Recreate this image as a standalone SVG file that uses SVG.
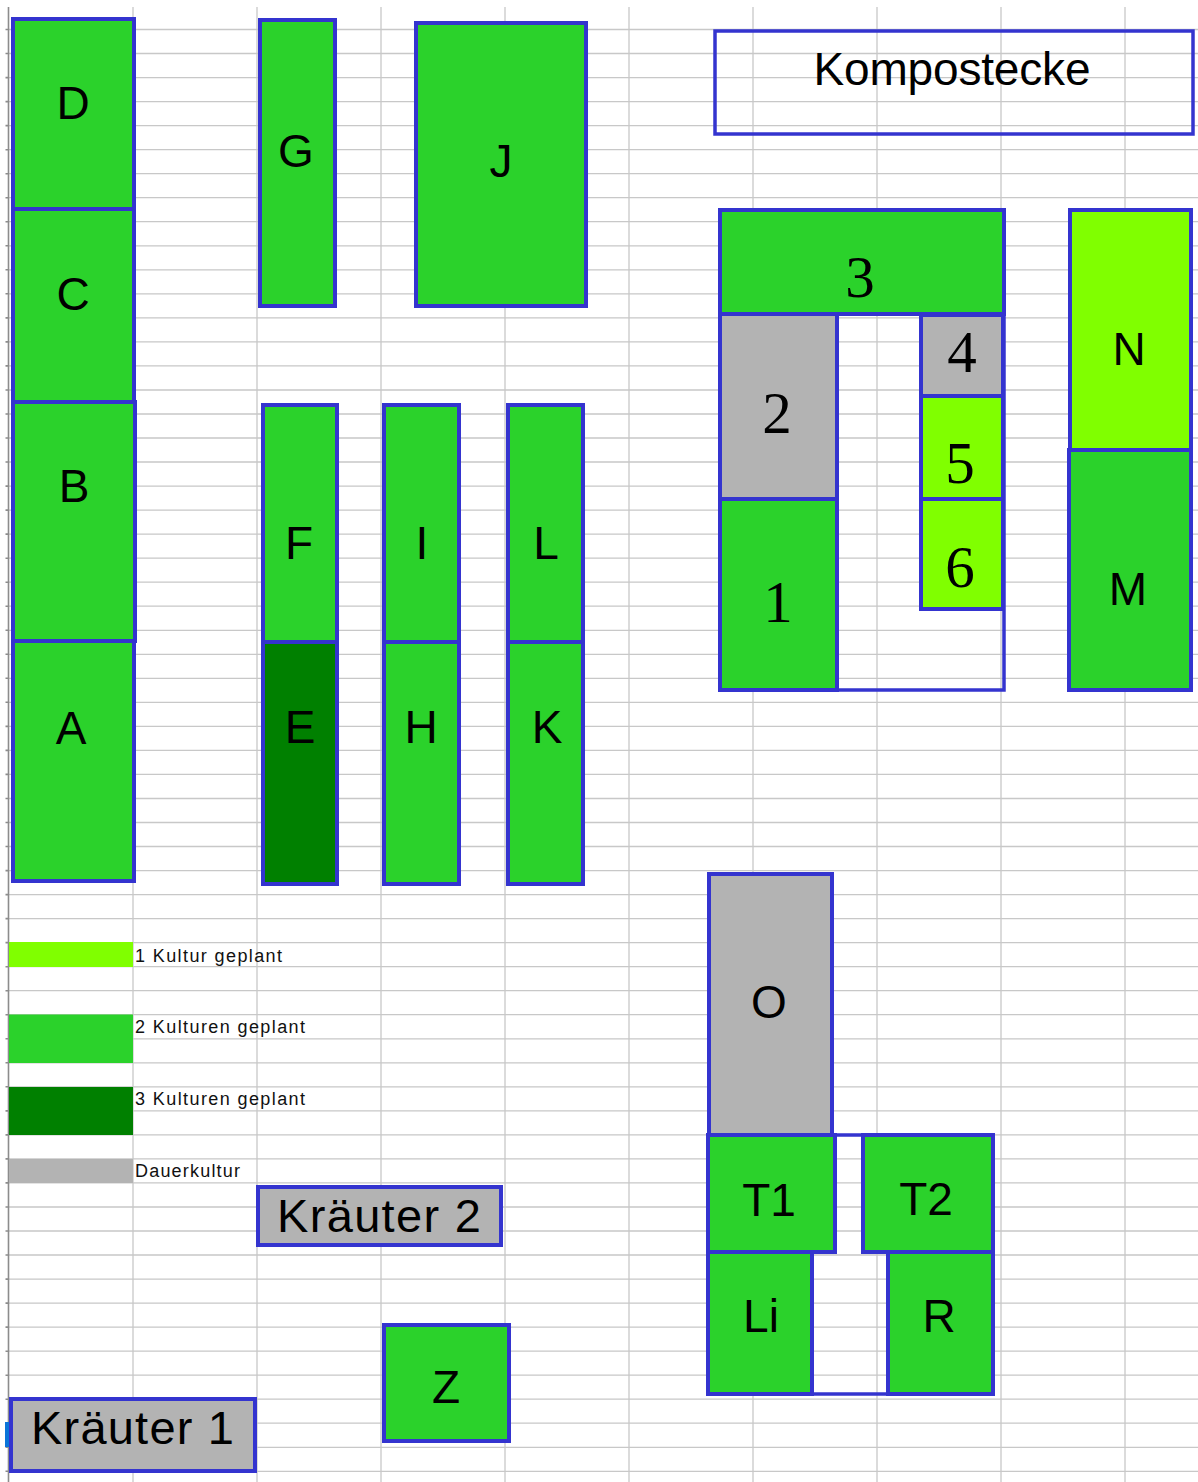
<svg xmlns="http://www.w3.org/2000/svg" width="1198" height="1482" viewBox="0 0 1198 1482">
<style>
.grid{stroke:#c8c8c8;stroke-width:1.3;fill:none}
.edge{stroke:#8c8c8c;stroke-width:1.6;fill:none}
.g{fill:#2bd22b;stroke:#3434cf;stroke-width:4}
.lg{fill:#80ff00;stroke:#3434cf;stroke-width:4}
.dg{fill:#008000;stroke:#3434cf;stroke-width:4}
.gr{fill:#b3b3b3;stroke:#3434cf;stroke-width:4}
.fr{fill:none;stroke:#3434cf;stroke-width:3.5}
.lbl{font-family:"Liberation Sans",Arial,sans-serif;font-size:46px;text-anchor:middle;fill:#000}
.num{font-family:"Liberation Serif","Times New Roman",serif;font-size:59px;text-anchor:middle;fill:#000}
.leg{font-family:"Liberation Sans",Arial,sans-serif;font-size:18px;fill:#111}
.big{font-family:"Liberation Sans",Arial,sans-serif;font-size:47px;fill:#000}
</style>
<rect width="1198" height="1482" fill="#fff"/>
<g id="grid">
<path class="grid" d="M133 7V1482M257 7V1482M381 7V1482M505 7V1482M629 7V1482M753 7V1482M877 7V1482M1001 7V1482M1125 7V1482"/>
<path class="grid" d="M9 29.5H1198M9 53.5H1198M9 77.6H1198M9 101.6H1198M9 125.6H1198M9 149.7H1198M9 173.7H1198M9 197.7H1198M9 221.7H1198M9 245.8H1198M9 269.8H1198M9 293.8H1198M9 317.9H1198M9 341.9H1198M9 365.9H1198M9 390H1198M9 414H1198M9 438H1198M9 462H1198M9 486.1H1198M9 510.1H1198M9 534.1H1198M9 558.2H1198M9 582.2H1198M9 606.2H1198M9 630.3H1198M9 654.3H1198M9 678.3H1198M9 702.3H1198M9 726.4H1198M9 750.4H1198M9 774.4H1198M9 798.5H1198M9 822.5H1198M9 846.5H1198M9 870.6H1198M9 894.6H1198M9 918.6H1198M9 942.6H1198M9 966.7H1198M9 990.7H1198M9 1014.7H1198M9 1038.8H1198M9 1062.8H1198M9 1086.8H1198M9 1110.9H1198M9 1134.9H1198M9 1158.9H1198M9 1182.9H1198M9 1207H1198M9 1231H1198M9 1255H1198M9 1279.1H1198M9 1303.1H1198M9 1327.1H1198M9 1351.2H1198M9 1375.2H1198M9 1399.2H1198M9 1423.2H1198M9 1447.3H1198M9 1471.3H1198"/>
<path class="edge" d="M8.5 7V1482"/>
<path class="edge" d="M5.5 29.5H9M5.5 53.5H9M5.5 77.6H9M5.5 101.6H9M5.5 125.6H9M5.5 149.7H9M5.5 173.7H9M5.5 197.7H9M5.5 221.7H9M5.5 245.8H9M5.5 269.8H9M5.5 293.8H9M5.5 317.9H9M5.5 341.9H9M5.5 365.9H9M5.5 390H9M5.5 414H9M5.5 438H9M5.5 462H9M5.5 486.1H9M5.5 510.1H9M5.5 534.1H9M5.5 558.2H9M5.5 582.2H9M5.5 606.2H9M5.5 630.3H9M5.5 654.3H9M5.5 678.3H9M5.5 702.3H9M5.5 726.4H9M5.5 750.4H9M5.5 774.4H9M5.5 798.5H9M5.5 822.5H9M5.5 846.5H9M5.5 870.6H9M5.5 894.6H9M5.5 918.6H9M5.5 942.6H9M5.5 966.7H9M5.5 990.7H9M5.5 1014.7H9M5.5 1038.8H9M5.5 1062.8H9M5.5 1086.8H9M5.5 1110.9H9M5.5 1134.9H9M5.5 1158.9H9M5.5 1182.9H9M5.5 1207H9M5.5 1231H9M5.5 1255H9M5.5 1279.1H9M5.5 1303.1H9M5.5 1327.1H9M5.5 1351.2H9M5.5 1375.2H9M5.5 1399.2H9M5.5 1423.2H9M5.5 1447.3H9M5.5 1471.3H9"/>
</g>
<g id="connectors"/>
<g id="bed-D"><rect class="g" x="13" y="19" width="121" height="190"/><text class="lbl" x="73" y="119">D</text></g>
<g id="bed-C"><rect class="g" x="13" y="209" width="121" height="193"/><text class="lbl" x="73" y="310">C</text></g>
<g id="bed-B"><rect class="g" x="13" y="402" width="122" height="239"/><text class="lbl" x="74" y="502">B</text></g>
<g id="bed-A"><rect class="g" x="13" y="641" width="121" height="240"/><text class="lbl" x="71" y="744">A</text></g>
<g id="bed-G"><rect class="g" x="260" y="20" width="75" height="286"/><text class="lbl" x="296" y="167">G</text></g>
<g id="bed-J"><rect class="g" x="416" y="23" width="170" height="283"/><text class="lbl" x="501" y="177">J</text></g>
<g id="bed-F"><rect class="g" x="263" y="405" width="74" height="237"/><text class="lbl" x="299" y="559">F</text></g>
<g id="bed-E"><rect class="dg" x="263" y="642" width="74" height="242"/><text class="lbl" x="300" y="743">E</text></g>
<g id="bed-I"><rect class="g" x="384" y="405" width="75" height="237"/><text class="lbl" x="422" y="559">I</text></g>
<g id="bed-H"><rect class="g" x="384" y="642" width="75" height="242"/><text class="lbl" x="421" y="743">H</text></g>
<g id="bed-L"><rect class="g" x="508" y="405" width="75" height="237"/><text class="lbl" x="546" y="559">L</text></g>
<g id="bed-K"><rect class="g" x="508" y="642" width="75" height="242"/><text class="lbl" x="547" y="743">K</text></g>
<g id="kompostecke"><rect class="fr" x="715" y="31" width="478" height="103" stroke-width="4"/><text class="lbl" x="952" y="85" font-size="45" textLength="277" lengthAdjust="spacing">Kompostecke</text></g>
<g id="frame-1-6"><rect class="fr" x="720" y="210" width="284" height="480"/></g>
<g id="bed-3"><rect class="g" x="720" y="210" width="284" height="104"/><text class="num" x="860" y="297">3</text></g>
<g id="bed-2"><rect class="gr" x="720" y="314" width="117" height="185"/><text class="num" x="777" y="433">2</text></g>
<g id="bed-1"><rect class="g" x="720" y="499" width="117" height="191"/><text class="num" x="778" y="622">1</text></g>
<g id="bed-4"><rect class="gr" x="921" y="315" width="82" height="81"/><text class="num" x="962" y="372">4</text></g>
<g id="bed-5"><rect class="lg" x="921" y="396" width="82" height="103"/><text class="num" x="960" y="483">5</text></g>
<g id="bed-6"><rect class="lg" x="921" y="499" width="82" height="110"/><text class="num" x="960" y="587">6</text></g>
<g id="bed-N"><rect class="lg" x="1070" y="210" width="121" height="240"/><text class="lbl" x="1129" y="365">N</text></g>
<g id="bed-M"><rect class="g" x="1069" y="450" width="122" height="240"/><text class="lbl" x="1128" y="605">M</text></g>
<g id="bed-O"><rect class="gr" x="709" y="874" width="123" height="261"/><text class="lbl" x="769" y="1018">O</text></g>
<g id="frame-T"><rect class="fr" x="708" y="1135" width="285" height="259"/></g>
<g id="bed-T1"><rect class="g" x="708" y="1135" width="127" height="117"/><text class="lbl" x="769" y="1216">T1</text></g>
<g id="bed-T2"><rect class="g" x="863" y="1135" width="130" height="117"/><text class="lbl" x="926" y="1215">T2</text></g>
<g id="bed-Li"><rect class="g" x="708" y="1252" width="104" height="142"/><text class="lbl" x="761" y="1332">Li</text></g>
<g id="bed-R"><rect class="g" x="888" y="1252" width="105" height="142"/><text class="lbl" x="939" y="1332">R</text></g>
<g id="kraeuter-2"><rect class="gr" x="258" y="1187" width="243" height="58"/><text class="big" x="277" y="1232" textLength="204" lengthAdjust="spacing">Kräuter 2</text></g>
<g id="bed-Z"><rect class="g" x="384" y="1325" width="125" height="116"/><text class="lbl" x="446" y="1403">Z</text></g>
<g id="kraeuter-1"><rect x="5" y="1422" width="4" height="25" fill="#0a74d8"/><rect class="gr" x="11" y="1399" width="244" height="72"/><text class="big" x="31" y="1444" textLength="203" lengthAdjust="spacing">Kräuter 1</text></g>
<g id="legend">
<rect x="9" y="942" width="124" height="25" fill="#80ff00"/>
<text class="leg" x="135" y="962" textLength="147" lengthAdjust="spacing">1 Kultur geplant</text>
<rect x="9" y="1014.5" width="124" height="48.5" fill="#2bd22b"/>
<text class="leg" x="135" y="1033" textLength="170" lengthAdjust="spacing">2 Kulturen geplant</text>
<rect x="9" y="1087" width="124" height="48" fill="#008000"/>
<text class="leg" x="135" y="1105" textLength="170" lengthAdjust="spacing">3 Kulturen geplant</text>
<rect x="9" y="1159" width="124" height="24" fill="#b3b3b3"/>
<text class="leg" x="135" y="1177" textLength="105" lengthAdjust="spacing">Dauerkultur</text>
</g>
</svg>
